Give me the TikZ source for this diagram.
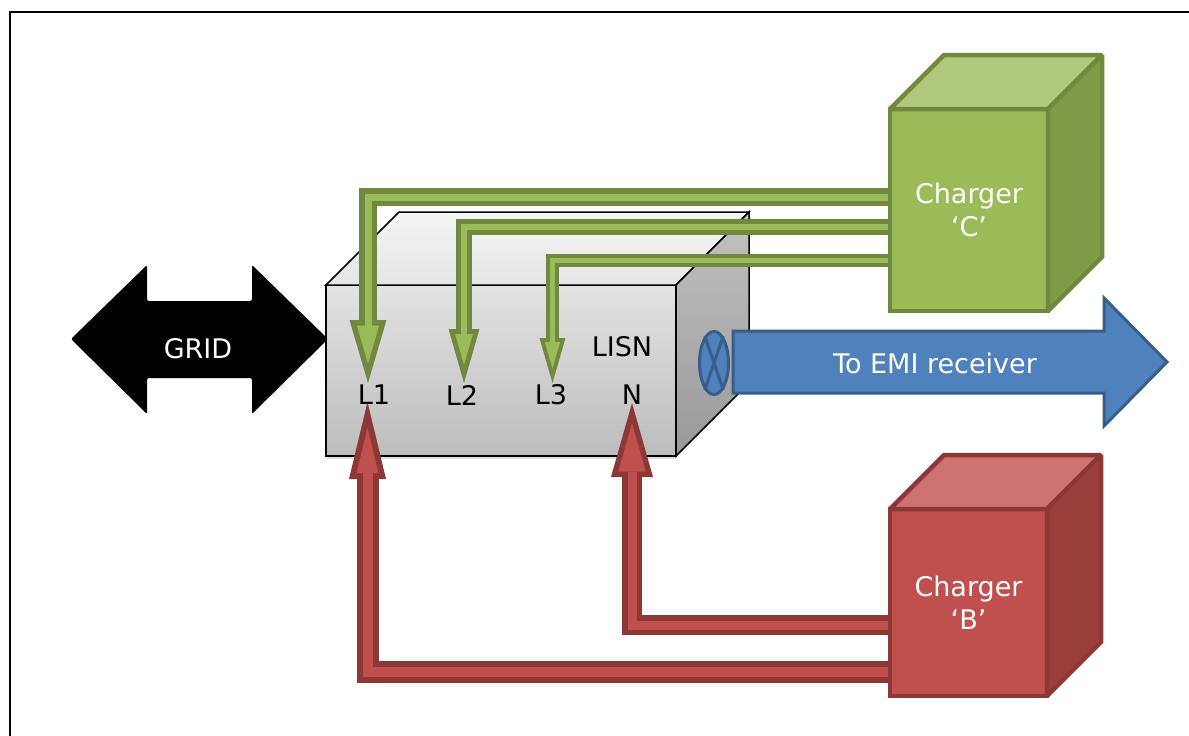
\documentclass[tikz,border=0pt]{standalone}
\usepackage{fontspec}
\setmainfont{DejaVu Sans}
\usetikzlibrary{arrows.meta, shapes.geometric, shadows}

\definecolor{ltgreen}{HTML}{9BBB59}
\definecolor{dkgreen}{HTML}{71893F}
\definecolor{topgreen}{HTML}{B0C97C}
\definecolor{sidegreen}{HTML}{7F9B48}
\definecolor{ltred}{HTML}{C0504D}
\definecolor{dkred}{HTML}{8C3836}
\definecolor{topred}{HTML}{CD7371}
\definecolor{sidered}{HTML}{9B3F3C}
\definecolor{ltblue}{HTML}{4F81BD}
\definecolor{dkblue}{HTML}{385D8A}

% outline colour, fill colour, width, border, head length, head width, from, to
\newcommand{\drawlead}[8]{%
  \pgfmathsetmacro{\hsin}{(#6/2)/sqrt((#6/2)^2+(#5)^2)}%
  \pgfmathsetmacro{\hback}{#4/\hsin}%
  \pgfmathsetmacro{\hlen}{#5-#4-\hback}%
  \pgfmathsetmacro{\hwid}{#6*\hlen/#5}%
  \pgfmathsetmacro{\wcore}{#3-2*#4}%
  \draw[#1, line width=#3pt, -{Triangle[length=#5pt, width=#6pt, line width=0pt 0 0]}] (#7) -| (#8);
  \draw[#2, line width=\wcore pt, shorten >=\hback pt,
        -{Triangle[length=\hlen pt, width=\hwid pt, line width=0pt 0 0]}] (#7) -| (#8);
}

% node, top colour, side colour, outline colour, depth
\newcommand{\drawcube}[5]{%
  \draw[#4, line width=4.5pt, miter limit=2, fill=#2] (#1.north west) -- ++(#5,-#5)
    -- ([shift={(#5,-#5)}]#1.north east) -- (#1.north east) -- cycle;
  \draw[#4, line width=4.5pt, miter limit=2, fill=#3] (#1.north east) -- ++(#5,-#5)
    -- ([shift={(#5,-#5)}]#1.south east) -- (#1.south east) -- cycle;
}

\begin{document}
\begin{tikzpicture}[x=1pt, y=-1pt]
  \tikzstyle{every node}=[font=\fontsize{27}{33}\selectfont]
  \tikzstyle{cube}=[draw, line width=4.5pt, outer sep=0pt, inner sep=0pt, text=white, align=center]
  \tikzstyle{lisnface}=[draw=black, line width=1.5pt]
  \useasboundingbox (0,0) rectangle (1189,736);
  \draw[line width=1.5pt] (10,736) -- (10,12) -- (1189,12);

  \node[lisnface, outer sep=0pt, inner sep=0pt, minimum width=350pt, minimum height=171pt,
        top color=gray!22, bottom color=gray!52,
        drop shadow={shadow xshift=1pt, shadow yshift=-3pt, opacity=0.25}] (lisn) at (501,370.5) {};
  \draw[lisnface, top color=gray!8, bottom color=gray!20] (lisn.north west) -- ++(73,-73)
    -- ([shift={(73,-73)}]lisn.north east) -- (lisn.north east) -- cycle;
  \draw[lisnface, top color=gray!48, bottom color=gray!80] (lisn.north east) -- ++(73,-73)
    -- ([shift={(73,-73)}]lisn.south east) -- (lisn.south east) -- cycle;

  \coordinate (cC) at (969,210);
  \coordinate (cB) at (968.5,602.5);
  \coordinate (gL1) at (368,383);
  \coordinate (gL2) at (464,383);
  \coordinate (gL3) at (552.5,383);
  \coordinate (rL1) at (367.5,402);
  \coordinate (rN) at (632,403);

  \drawlead{dkgreen}{ltgreen}{18}{5.5}{63}{37}{cC |- 0,197}{gL1}
  \drawlead{dkgreen}{ltgreen}{16}{5}{54}{31}{cC |- 0,227}{gL2}
  \drawlead{dkgreen}{ltgreen}{13}{4}{45}{26}{cC |- 0,260}{gL3}
  \drawlead{dkred}{ltred}{22}{6}{77}{37}{cB |- 0,671.5}{rL1}
  \drawlead{dkred}{ltred}{20}{5.5}{74}{42}{cB |- 0,625}{rN}

  \node[cube, fill=ltgreen, draw=dkgreen, minimum width=158pt, minimum height=202pt] (chgC) at (cC) {Charger\\‘C’};
  \drawcube{chgC}{topgreen}{sidegreen}{dkgreen}{54}
  \node[cube, fill=ltred, draw=dkred, minimum width=157pt, minimum height=187pt] (chgB) at (cB) {Charger\\‘B’};
  \drawcube{chgB}{topred}{sidered}{dkred}{54}

  \node (lisnlbl) at (622,347) {LISN};
  \node (L1) at (374,395) {L1};
  \node (L2) at (462,395) {L2};
  \node (L3) at (551,395) {L3};
  \node (N) at (632,395) {N};

  \draw[dkblue, fill=ltblue, line width=3pt] (733,331) -- (1104,331) -- (1104,298) -- (1167,362)
    -- (1104,426) -- (1104,393) -- (733,393) -- cycle;
  \node[text=white] (emi) at (935,363) {To EMI receiver};
  \node[ellipse, draw=dkblue, fill=ltblue, line width=3pt, minimum width=29pt, minimum height=63pt,
        inner sep=0pt] (bnc) at (714,363) {};
  \draw[dkblue, line width=3pt] (bnc.71) -- (bnc.251) (bnc.109) -- (bnc.289);

  \fill[rounded corners=2pt] (71,339) -- (147,265) -- (147,301) -- (252,301) -- (252,265)
    -- (328,339) -- (252,414) -- (252,378) -- (147,378) -- (147,414) -- cycle;
  \node[text=white] (grid) at (198,349) {GRID};
\end{tikzpicture}
\end{document}
